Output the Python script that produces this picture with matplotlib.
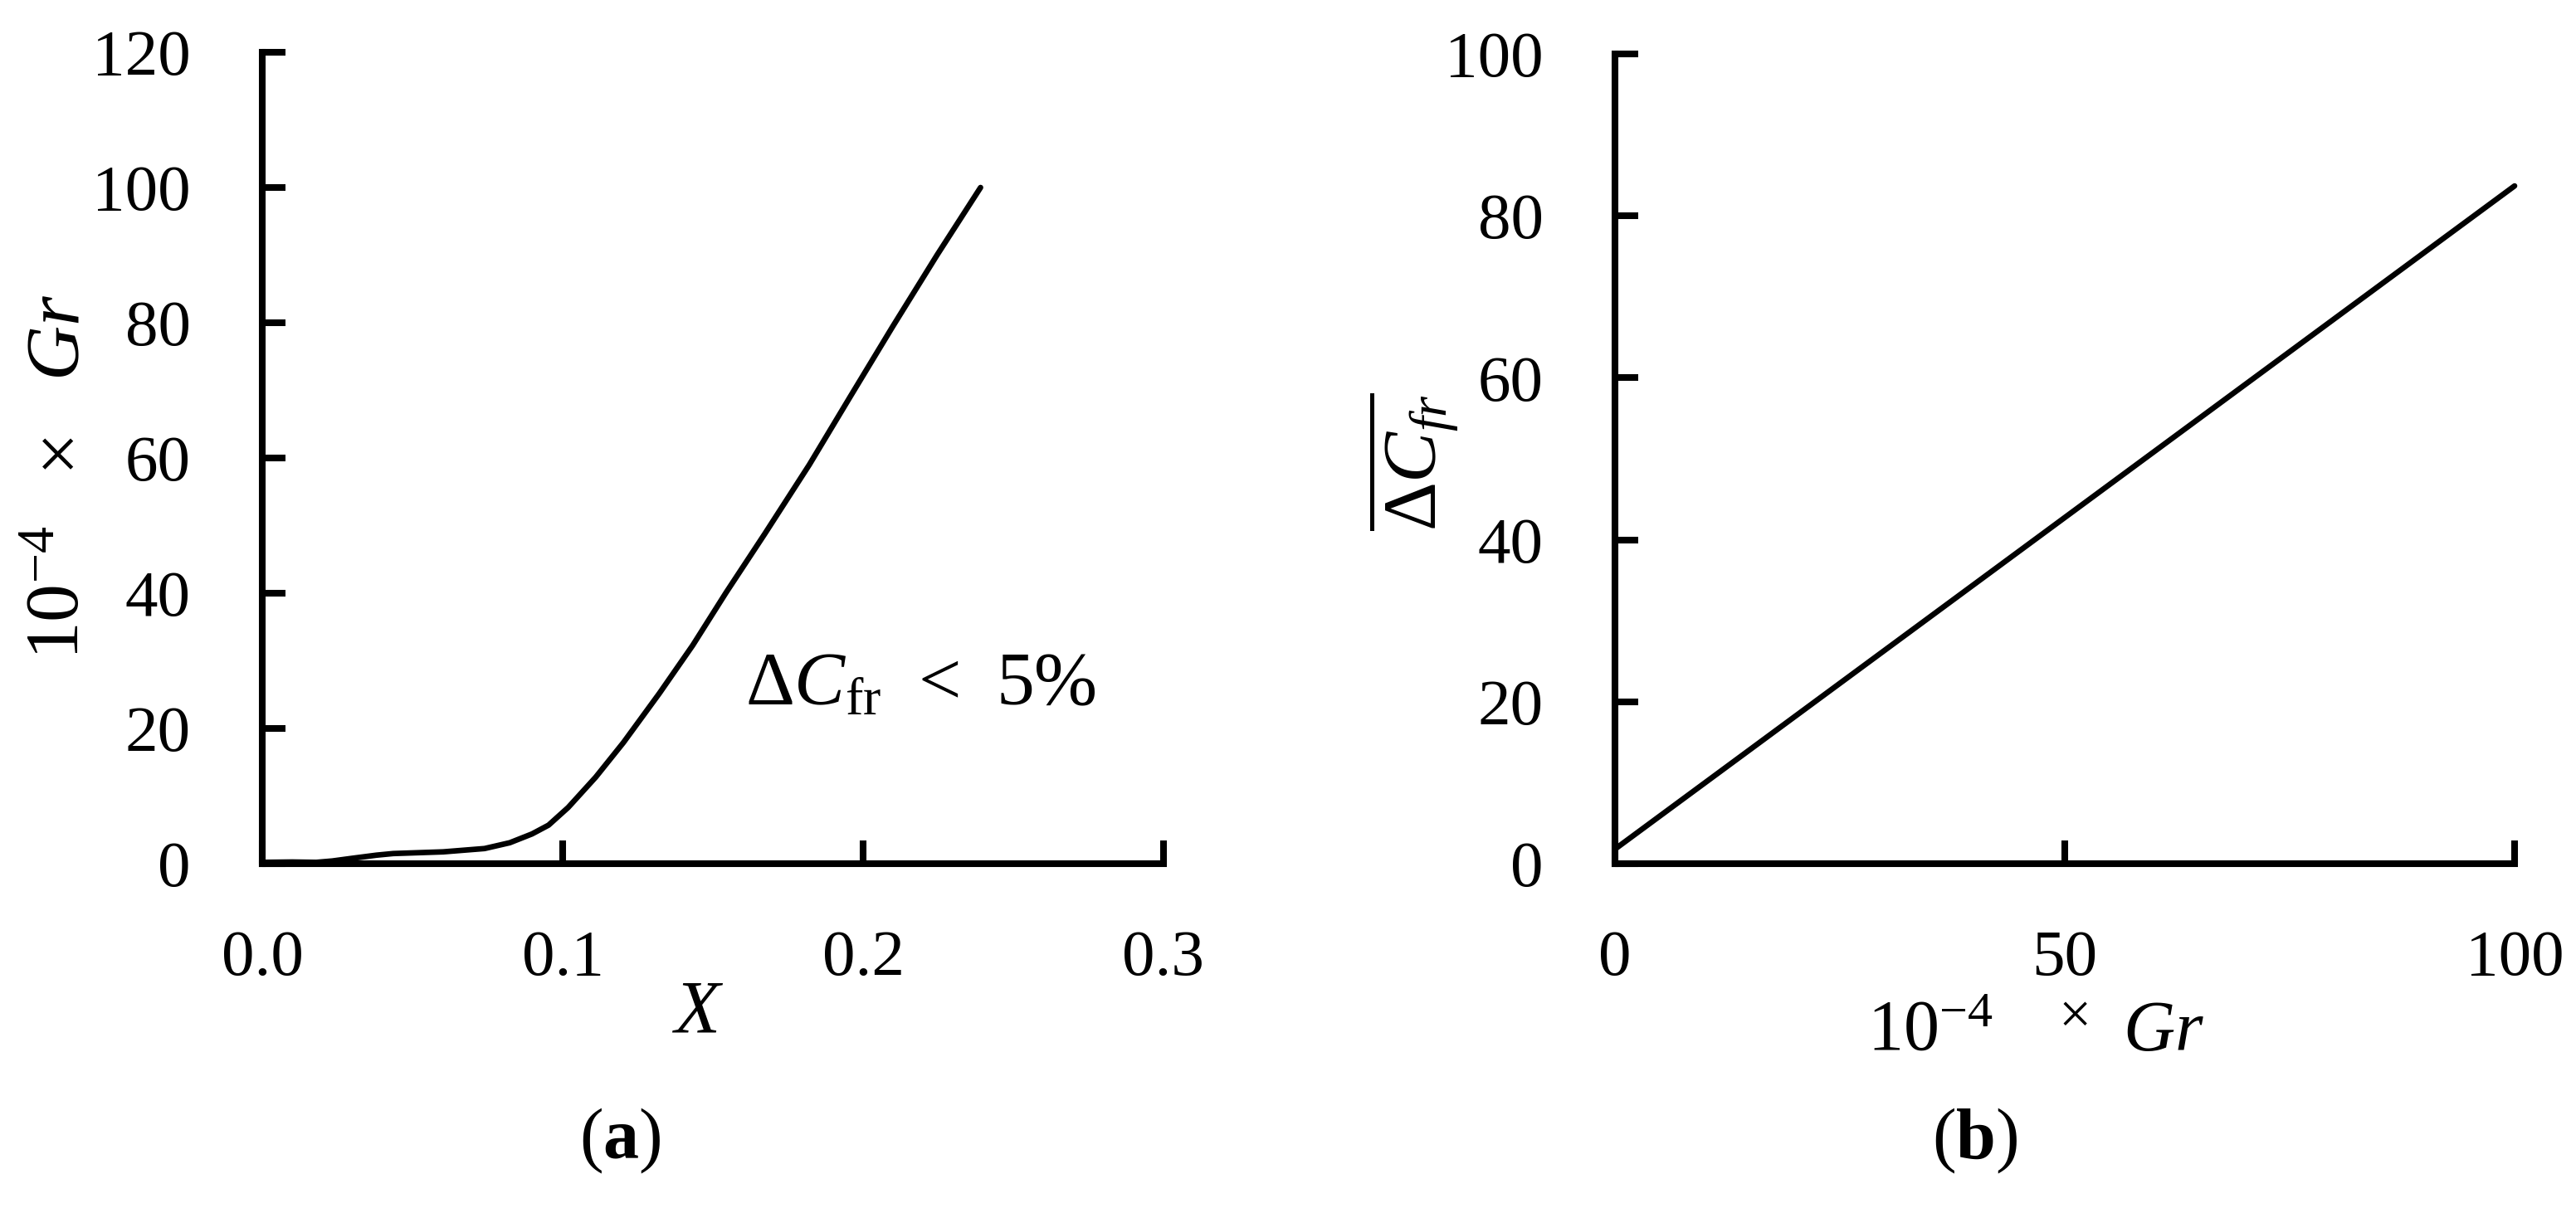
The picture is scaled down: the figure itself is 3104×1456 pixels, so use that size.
import matplotlib
matplotlib.use("Agg")
import matplotlib.pyplot as plt

# ---- data ----
x_frac = [0.000, 0.010, 0.018, 0.0233, 0.030, 0.038, 0.0436, 0.0602, 0.074, 0.0824,
          0.0898, 0.0953, 0.1018, 0.111, 0.1202, 0.1322, 0.1433, 0.1544, 0.1673,
          0.1821, 0.1959, 0.2098, 0.2246, 0.2391]
gr_scaled = [0.2, 0.25, 0.2, 0.4, 0.8, 1.26, 1.5, 1.75, 2.24, 3.1,
             4.4, 5.7, 8.3, 12.8, 17.9, 25.2, 32.3, 40.1, 48.8,
             59.0, 69.2, 79.4, 90.0, 100.0]

gr_b = [0, 100]
dcfr_b = [1.8, 83.7]

xticks_a = [0.0, 0.1, 0.2, 0.3]
xtick_labels_a = ["0.0", "0.1", "0.2", "0.3"]
yticks_a = [0, 20, 40, 60, 80, 100, 120]
xticks_b = [0, 50, 100]
yticks_b = [0, 20, 40, 60, 80, 100]

# ---- style ----
plt.rcParams['font.family'] = ['Liberation Serif', 'DejaVu Serif']
plt.rcParams['mathtext.fontset'] = 'custom'
plt.rcParams['mathtext.rm'] = 'Liberation Serif'
plt.rcParams['mathtext.it'] = 'Liberation Serif:italic'
plt.rcParams['mathtext.bf'] = 'Liberation Serif:bold'

W, H = 3104, 1456
fig = plt.figure(figsize=(W / 100, H / 100), dpi=100)

def fx(x):
    return x / W

def fy(y):
    return 1 - y / H

TICK_FS = 57
LAB_FS = 66
SPINE_W = 5.8
LINE_W = 4.8

ax_a = fig.add_axes([fx(316), fy(1041), fx(1402) - fx(316), fy(63) - fy(1041)])
ax_b = fig.add_axes([fx(1946), fy(1041), fx(3030) - fx(1946), fy(65) - fy(1041)])

for ax in (ax_a, ax_b):
    for s in ('top', 'right'):
        ax.spines[s].set_visible(False)
    for s in ('left', 'bottom'):
        ax.spines[s].set_linewidth(SPINE_W)
        ax.spines[s].set_color('black')
        ax.spines[s].set_capstyle('projecting')
    ax.tick_params(axis='both', direction='in', length=20, width=SPINE_W,
                   labelsize=TICK_FS, colors='black')
    ax.tick_params(axis='y', pad=62)
    ax.tick_params(axis='x', pad=57)

# (a)
ax_a.plot(x_frac, gr_scaled, color='black', lw=LINE_W, solid_capstyle='round',
          solid_joinstyle='round', clip_on=False)
ax_a.set_xlim(0, 0.3)
ax_a.set_ylim(0, 120)
ax_a.set_xticks(xticks_a)
ax_a.set_xticklabels(xtick_labels_a)
ax_a.set_yticks(yticks_a)

# (b)
ax_b.plot(gr_b, dcfr_b, color='black', lw=LINE_W, solid_capstyle='round',
          clip_on=False)
ax_b.set_xlim(0, 100)
ax_b.set_ylim(0, 100)
ax_b.set_xticks(xticks_b)
ax_b.set_yticks(yticks_b)

rot = dict(rotation=90, rotation_mode='anchor', ha='left', va='baseline',
           fontsize=LAB_FS)

# (a) y label, in pieces along the axis
fig.text(fx(95), fy(795), r'$10^{-4}$', **rot)
fig.text(fx(95), fy(565), '×', **rot)
fig.text(fx(95), fy(459), r'$Gr$', **rot)

# (a) x label and note
fig.text(fx(841), fy(1244), r'$X$', ha='center', va='baseline', fontsize=65)
fig.text(fx(898), fy(849), r'$\Delta C_{\mathrm{fr}}$', ha='left', va='baseline',
         fontsize=LAB_FS)
fig.text(fx(1132), fy(849), '<', ha='center', va='baseline', fontsize=LAB_FS)
fig.text(fx(1200), fy(849), '5%', ha='left', va='baseline', fontsize=LAB_FS)

# (b) y label
fig.text(fx(1732), fy(640), r'$\overline{\Delta C_{fr}}$', **rot)

# (b) x label
fig.text(fx(2250), fy(1266), r'$10^{-4}$', ha='left', va='baseline', fontsize=62)
fig.text(fx(2500), fy(1228), '×', ha='center', va='center', fontsize=50)
fig.text(fx(2558), fy(1266), r'$Gr$', ha='left', va='baseline', fontsize=62)

# panel captions
fig.text(fx(747), fy(1375), r'$(\mathbf{a})$', ha='center', va='center', fontsize=62)
fig.text(fx(2380), fy(1375), r'$(\mathbf{b})$', ha='center', va='center', fontsize=62)

fig.savefig('out.png', dpi=100, facecolor='white')
